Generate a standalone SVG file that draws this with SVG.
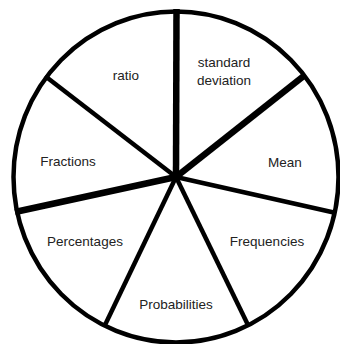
<svg xmlns="http://www.w3.org/2000/svg" width="340" height="344" viewBox="0 0 340 344">
<style>
.rim{fill:#fff;stroke:#000;stroke-width:4.5}
.sp{stroke:#000;stroke-width:4.5;stroke-linecap:butt}
.thick{stroke-width:6.5}
text{font-family:"Liberation Sans",Arial,sans-serif;font-size:13.5px;fill:#222;text-anchor:middle}
</style>
<rect width="340" height="344" fill="#fff"/>
<ellipse class="rim" cx="176" cy="177" rx="162.5" ry="165.5"/>
<g id="connectors">
<line class="sp thick" x1="176" y1="177" x2="176.5" y2="9"/>
<line class="sp thick" x1="176" y1="177" x2="305" y2="75"/>
<line class="sp" x1="176" y1="177" x2="336" y2="213"/>
<line class="sp" x1="176" y1="177" x2="248" y2="325"/>
<line class="sp" x1="176" y1="177" x2="105" y2="325"/>
<line class="sp thick" x1="176" y1="177" x2="15" y2="212"/>
<line class="sp" x1="176" y1="177" x2="45" y2="76"/>
</g>
<g id="standard-deviation"><text x="224" y="67">standard</text><text x="224" y="85">deviation</text></g>
<g id="ratio"><text x="126" y="80">ratio</text></g>
<g id="fractions"><text x="68" y="166">Fractions</text></g>
<g id="mean"><text x="285" y="167">Mean</text></g>
<g id="frequencies"><text x="267" y="246">Frequencies</text></g>
<g id="percentages"><text x="85" y="246">Percentages</text></g>
<g id="probabilities"><text x="176" y="309">Probabilities</text></g>
</svg>
